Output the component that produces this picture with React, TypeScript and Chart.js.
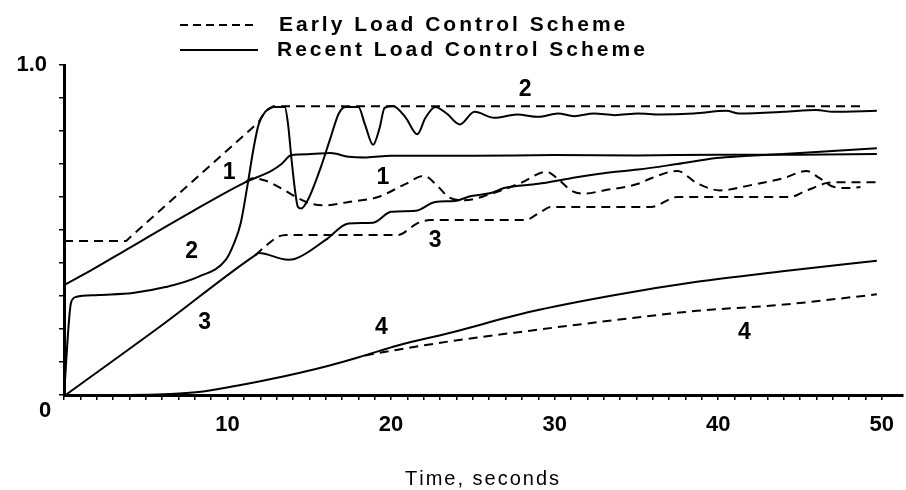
import React, { useEffect, useRef } from 'react';
import { Chart, registerables } from 'chart.js';

Chart.register(...registerables);

// ---- Data (time in seconds, normalized value) ----
const recent1: [number, number][] = [
  [0, 0.333], [1.7, 0.379], [3.8, 0.44], [7.8, 0.555], [11.1, 0.645], [12.7, 0.68], [13.3, 0.7],
  [13.9, 0.727], [15.1, 0.73], [16.3, 0.733], [17.4, 0.722], [18.5, 0.72], [20, 0.725], [25, 0.725],
  [30, 0.727], [35, 0.726], [40, 0.728], [45, 0.728], [49.7, 0.73],
];
const recent2: [number, number][] = [
  [0, 0], [0.43, 0.28], [0.73, 0.297], [2.1, 0.303], [4.2, 0.309], [6.2, 0.327], [8.2, 0.358],
  [9.9, 0.41], [10.4, 0.46], [10.8, 0.52], [11.2, 0.63], [11.6, 0.75], [11.9, 0.82], [12.3, 0.858],
  [12.9, 0.873], [13.5, 0.873], [13.7, 0.82], [13.9, 0.72], [14.1, 0.63], [14.3, 0.57], [14.5, 0.565],
  [14.9, 0.59], [15.7, 0.69], [16.3, 0.78], [16.8, 0.853], [17.2, 0.873], [18.0, 0.873], [18.4, 0.82],
  [18.9, 0.758], [19.3, 0.81], [19.6, 0.87], [20.1, 0.876], [20.9, 0.84], [21.6, 0.79], [22.1, 0.84],
  [22.7, 0.873], [23.4, 0.853], [24.2, 0.82], [25.1, 0.858], [26.3, 0.84], [27.7, 0.85], [29, 0.843],
  [30.2, 0.853], [31.2, 0.845], [32.4, 0.853], [33.7, 0.848], [35.1, 0.853], [36.4, 0.85],
  [38.5, 0.853], [40.5, 0.861], [41.3, 0.853], [44, 0.858], [46, 0.864], [47, 0.858], [49.7, 0.861],
];
const recent3: [number, number][] = [
  [0.1, 0], [6, 0.212], [11.7, 0.424], [11.9, 0.43], [13.7, 0.41], [14.1, 0.412], [16, 0.47], [17.4, 0.52],
  [18.9, 0.522], [20, 0.555], [21.5, 0.558], [22.7, 0.585], [23.9, 0.588], [24.9, 0.603],
  [26.1, 0.612], [26.9, 0.627], [29, 0.64], [31, 0.657], [33, 0.672], [35.1, 0.683], [37.5, 0.7],
  [39.9, 0.718], [41.6, 0.724], [46, 0.736], [49.7, 0.748],
];
const recent4: [number, number][] = [
  [0, 0], [4, 0], [6.5, 0.003], [8.2, 0.009], [10.2, 0.025], [12.3, 0.045], [14.3, 0.066],
  [16.3, 0.09], [18.4, 0.12], [20.4, 0.15], [23.5, 0.187], [28.5, 0.252], [33.7, 0.303],
  [38.7, 0.343], [43.8, 0.374], [49.7, 0.407],
];
// early-scheme curves 1, 3 and 4 follow the recent ones until they branch off
const early1: [number, number][] = [
  [11.1, 0.645], [11.5, 0.657], [12.3, 0.65], [13.5, 0.62],
  [14.3, 0.597], [15.1, 0.58], [16, 0.575], [17.4, 0.585], [19.2, 0.6], [20.9, 0.64], [22, 0.664],
  [22.9, 0.63], [23.5, 0.6], [24.5, 0.59], [25.9, 0.606], [27.9, 0.642], [29.5, 0.676], [30.2, 0.655],
  [31, 0.62], [31.8, 0.61], [33, 0.62], [35.1, 0.64], [35.9, 0.657], [37.5, 0.679], [38.7, 0.642],
  [40.1, 0.62], [42, 0.636], [44, 0.657], [45.4, 0.679], [46.2, 0.657], [47.1, 0.63], [48, 0.627],
  [48.7, 0.63],
];
const early2: [number, number][] = [
  [0, 0.467], [3.8, 0.467], [11.9, 0.827], [12.3, 0.86], [12.8, 0.875], [48.7, 0.875],
];
const early3: [number, number][] = [
  [11.7, 0.424], [12.3, 0.45], [13.1, 0.48], [13.6, 0.485], [20.4, 0.485], [21.6, 0.52],
  [22.4, 0.53], [28.2, 0.53], [29, 0.55], [29.8, 0.57], [35.9, 0.57], [37.5, 0.6], [44.4, 0.6],
  [45.2, 0.615], [46.6, 0.642], [47.2, 0.645], [49.9, 0.645],
];
const early4: [number, number][] = [
  [18.4, 0.12], [20.4, 0.137], [23.5, 0.162], [28.5, 0.195], [33.7, 0.227],
  [38.7, 0.255], [43.8, 0.273], [49.7, 0.305],
];

const xTickLabels = [10, 20, 30, 40, 50];
const yTickLabels = [{ value: 1, text: '1.0' }];
const originLabel = '0';
const xAxisTitle = 'Time, seconds';
const legendLabels = ['Early Load Control Scheme', 'Recent Load Control Scheme'];

// curve number annotations, in data units
const curveLabels = [
  { text: '1', x: 10.1, y: 0.673 },
  { text: '1', x: 19.5, y: 0.66 },
  { text: '2', x: 28.2, y: 0.925 },
  { text: '2', x: 7.8, y: 0.433 },
  { text: '3', x: 22.7, y: 0.467 },
  { text: '3', x: 8.6, y: 0.218 },
  { text: '4', x: 19.4, y: 0.203 },
  { text: '4', x: 41.6, y: 0.188 },
];

const FONT = "'Liberation Sans', Arial, Helvetica, sans-serif";
const DASH = [9, 6];

function drawSpaced(
  ctx: CanvasRenderingContext2D,
  text: string,
  x: number,
  y: number,
  spacing: number,
  align: 'left' | 'center' | 'right'
) {
  const chars = Array.from(text);
  const widths = chars.map((c) => ctx.measureText(c).width);
  const total = widths.reduce((a, b) => a + b, 0) + spacing * (chars.length - 1);
  let cx = align === 'center' ? x - total / 2 : align === 'right' ? x - total : x;
  ctx.textAlign = 'left';
  chars.forEach((c, i) => {
    ctx.fillText(c, cx, y);
    cx += widths[i] + spacing;
  });
}

const decorPlugin = {
  id: 'decor',
  afterDraw(chart: any) {
    const ctx: CanvasRenderingContext2D = chart.ctx;
    const xs = chart.scales.x;
    const ys = chart.scales.y;
    ctx.save();
    ctx.fillStyle = '#000';
    ctx.strokeStyle = '#000';

    // legend
    const legendRows = [
      { y: 25, textY: 31, dash: [8, 5], label: legendLabels[0], tx: 279 },
      { y: 50, textY: 56, dash: [] as number[], label: legendLabels[1], tx: 277 },
    ];
    legendRows.forEach((r) => {
      ctx.beginPath();
      ctx.lineWidth = 2;
      ctx.setLineDash(r.dash);
      ctx.moveTo(180, r.y);
      ctx.lineTo(258, r.y);
      ctx.stroke();
      ctx.setLineDash([]);
      ctx.font = `bold 21px ${FONT}`;
      ctx.textBaseline = 'alphabetic';
      drawSpaced(ctx, r.label, r.tx, r.textY, 3, 'left');
    });

    // origin label
    ctx.font = `bold 22px ${FONT}`;
    ctx.textBaseline = 'middle';
    ctx.textAlign = 'center';
    ctx.fillText(originLabel, 45, 411);

    // x axis title
    ctx.font = `20px ${FONT}`;
    ctx.textBaseline = 'middle';
    drawSpaced(ctx, xAxisTitle, 482, 479, 2, 'center');

    // curve labels
    ctx.font = `bold 23px ${FONT}`;
    ctx.textBaseline = 'middle';
    ctx.textAlign = 'center';
    curveLabels.forEach((l) => {
      ctx.fillText(l.text, xs.getPixelForValue(l.x), ys.getPixelForValue(l.y));
    });
    ctx.restore();
  },
};

function toXY(arr: [number, number][]) {
  return arr.map(([x, y]) => ({ x, y }));
}

export default function App() {
  const ref = useRef<HTMLCanvasElement | null>(null);

  useEffect(() => {
    if (!ref.current) return;
    const series = [
      { label: 'Recent 1', data: recent1, dash: [] as number[], smooth: true },
      { label: 'Recent 2', data: recent2, dash: [] as number[], smooth: true },
      { label: 'Recent 3', data: recent3, dash: [] as number[], smooth: true },
      { label: 'Recent 4', data: recent4, dash: [] as number[], smooth: true },
      { label: 'Early 1', data: early1, dash: DASH, smooth: true },
      { label: 'Early 2', data: early2, dash: DASH, smooth: false },
      { label: 'Early 3', data: early3, dash: DASH, smooth: true },
      { label: 'Early 4', data: early4, dash: DASH, smooth: true },
    ];
    const chart = new Chart(ref.current, {
      type: 'line',
      data: {
        datasets: series.map((s) => ({
          label: s.label,
          data: toXY(s.data),
          borderColor: '#000',
          borderWidth: 2,
          borderDash: s.dash,
          pointRadius: 0,
          fill: false,
          tension: 0,
          cubicInterpolationMode: s.smooth ? ('monotone' as const) : ('default' as const),
        })),
      },
      options: {
        responsive: false,
        animation: false,
        layout: { padding: { top: 65, left: 0, right: 0, bottom: 0 } },
        plugins: {
          legend: { display: false },
          tooltip: { enabled: false },
          title: { display: false },
        },
        scales: {
          x: {
            type: 'linear',
            min: 0,
            max: 51.3,
            afterFit: (s: any) => {
              s.height = 95;
            },
            afterBuildTicks: (s: any) => {
              s.ticks = s.ticks.filter((t: any) => Math.abs(t.value - Math.round(t.value)) < 1e-6);
            },
            border: { display: true, color: '#000', width: 3 },
            grid: {
              display: true,
              drawOnChartArea: false,
              drawTicks: true,
              tickLength: 5,
              color: '#000',
              lineWidth: 1.5,
            },
            ticks: {
              stepSize: 1,
              autoSkip: false,
              maxRotation: 0,
              padding: 12,
              color: '#000',
              font: { family: FONT, size: 22, weight: 'bold' },
              callback: (v: any) => (xTickLabels.includes(Math.round(Number(v))) && Math.abs(Number(v) - Math.round(Number(v))) < 1e-6 ? String(Math.round(Number(v))) : ''),
            },
          },
          y: {
            type: 'linear',
            min: 0,
            max: 1,
            afterFit: (s: any) => {
              s.width = 64;
            },
            border: { display: true, color: '#000', width: 3 },
            grid: {
              display: true,
              drawOnChartArea: false,
              drawTicks: true,
              tickLength: 5,
              color: '#000',
              lineWidth: 1.5,
            },
            ticks: {
              stepSize: 0.1,
              autoSkip: false,
              padding: 12,
              color: '#000',
              font: { family: FONT, size: 22, weight: 'bold' },
              callback: (v: any) => {
                const f = yTickLabels.find((t) => Math.abs(t.value - Number(v)) < 1e-6);
                return f ? f.text : '';
              },
            },
          },
        },
      },
      plugins: [decorPlugin],
    });
    return () => chart.destroy();
  }, []);

  return (
    <canvas
      ref={ref}
      width={906}
      height={490}
      style={{ position: 'absolute', left: 0, top: 0, width: 906, height: 490, display: 'block', background: '#fff' }}
    />
  );
}
